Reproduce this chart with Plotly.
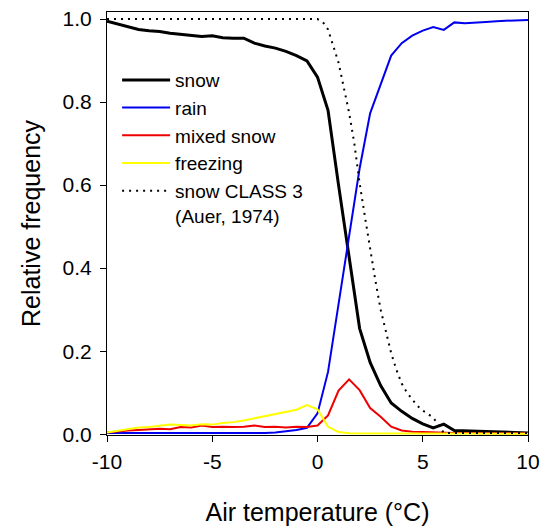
import plotly.graph_objects as go

temp = [-10.0, -9.5, -9.0, -8.5, -8.0, -7.5, -7.0, -6.5, -6.0, -5.5, -5.0, -4.5, -4.0, -3.5,
        -3.0, -2.5, -2.0, -1.5, -1.0, -0.5, 0.0, 0.5, 1.0, 1.5, 2.0, 2.5, 3.0, 3.5, 4.0,
        4.5, 5.0, 5.5, 6.0, 6.5, 7.0, 7.5, 8.0, 8.5, 9.0, 9.5, 10.0]

snow = [0.995, 0.988, 0.982, 0.975, 0.972, 0.970, 0.966, 0.963, 0.961, 0.958, 0.960, 0.955,
        0.954, 0.954, 0.942, 0.935, 0.930, 0.922, 0.912, 0.899, 0.860, 0.780, 0.600, 0.430,
        0.255, 0.173, 0.117, 0.075, 0.055, 0.038, 0.025, 0.015, 0.024, 0.009, 0.008, 0.007,
        0.007, 0.006, 0.005, 0.004, 0.003]

rain = [0.003, 0.003, 0.003, 0.002, 0.003, 0.003, 0.002, 0.003, 0.003, 0.002, 0.002, 0.002,
        0.002, 0.002, 0.002, 0.003, 0.004, 0.007, 0.010, 0.015, 0.050, 0.150, 0.310, 0.470,
        0.640, 0.773, 0.845, 0.912, 0.942, 0.960, 0.972, 0.981, 0.974, 0.992, 0.990, 0.991,
        0.993, 0.995, 0.996, 0.997, 0.998]

mixed = [0.004, 0.007, 0.009, 0.010, 0.012, 0.013, 0.012, 0.017, 0.016, 0.021, 0.017, 0.018,
         0.017, 0.018, 0.021, 0.017, 0.018, 0.016, 0.018, 0.017, 0.021, 0.045, 0.105, 0.132,
         0.106, 0.063, 0.042, 0.018, 0.009, 0.006, 0.005, 0.004, 0.004, 0.003, 0.003, 0.002,
         0.002, 0.002, 0.002, 0.002, 0.002]

freezing = [0.004, 0.008, 0.012, 0.016, 0.017, 0.020, 0.023, 0.022, 0.021, 0.024, 0.023, 0.027,
            0.029, 0.033, 0.038, 0.043, 0.049, 0.053, 0.059, 0.070, 0.060, 0.018, 0.005, 0.002,
            0.002, 0.001, 0.001, 0.001, 0.001, 0.001, 0.001, 0.001, 0.001, 0.001, 0.001, 0.001,
            0.001, 0.001, 0.001, 0.001, 0.001]

auer_temp = [-10.0, -5.0, 0.0, 0.25, 0.5, 0.75, 1.0, 1.25, 1.5, 1.75, 2.0, 2.25, 2.5, 2.75,
             3.0, 3.25, 3.5, 3.75, 4.0, 4.25, 4.5, 4.75, 5.0, 5.25, 5.5, 6.0, 7.0, 8.0, 9.0, 10.0]
auer_snow = [1.0, 1.0, 1.0, 0.993, 0.975, 0.935, 0.895, 0.835, 0.775, 0.700, 0.605, 0.525,
             0.445, 0.370, 0.300, 0.245, 0.195, 0.155, 0.122, 0.100, 0.083, 0.068, 0.057,
             0.048, 0.040, 0.003, 0.003, 0.003, 0.003, 0.003]

x_ticks = [-10, -5, 0, 5, 10]
y_ticks = [0.0, 0.2, 0.4, 0.6, 0.8, 1.0]

FONT = "Liberation Sans, Arial, sans-serif"

fig = go.Figure()
fig.add_trace(go.Scatter(x=temp, y=snow, mode="lines", name="snow",
                         line=dict(color="#000000", width=3)))
fig.add_trace(go.Scatter(x=temp, y=rain, mode="lines", name="rain",
                         line=dict(color="#0000ee", width=2)))
fig.add_trace(go.Scatter(x=temp, y=mixed, mode="lines", name="mixed snow",
                         line=dict(color="#ee0000", width=2)))
fig.add_trace(go.Scatter(x=temp, y=freezing, mode="lines", name="freezing",
                         line=dict(color="#ffff00", width=2)))
fig.add_trace(go.Scatter(x=auer_temp, y=auer_snow, mode="lines",
                         name="snow CLASS 3<br>(Auer, 1974)",
                         line=dict(color="#000000", width=2, dash="2px,5px")))

fig.update_layout(
    width=541, height=531,
    margin=dict(l=107, r=13, t=12, b=96, autoexpand=False),
    paper_bgcolor="white", plot_bgcolor="white",
    font=dict(family=FONT, color="black"),
    showlegend=True,
    legend=dict(x=0.024, y=0.884, xanchor="left", yanchor="top",
                bgcolor="rgba(0,0,0,0)", font=dict(size=19, family=FONT),
                valign="top", itemwidth=48, tracegroupgap=0),
)
fig.update_xaxes(range=[-10, 10], tickvals=x_ticks, ticktext=[str(v) for v in x_ticks],
                 ticks="outside", ticklen=6, tickwidth=1, tickcolor="black",
                 showline=True, linecolor="black", linewidth=1, mirror=True,
                 showgrid=False, zeroline=False, automargin=False,
                 tickfont=dict(size=21, family=FONT), ticklabelstandoff=2,
                 title=dict(text="Air temperature (°C)", font=dict(size=25, family=FONT), standoff=31))
fig.update_yaxes(range=[-0.002, 1.017], tickvals=y_ticks, ticktext=[f"{v:.1f}" for v in y_ticks],
                 ticks="outside", ticklen=6, tickwidth=1, tickcolor="black",
                 showline=True, linecolor="black", linewidth=1, mirror=True,
                 showgrid=False, zeroline=False, automargin=False,
                 tickfont=dict(size=21, family=FONT), ticklabelstandoff=4,
                 title=dict(text="Relative frequency", font=dict(size=25, family=FONT), standoff=14))

fig.write_html("out.html", config={"displayModeBar": False},
               post_script="document.body.style.margin='0';")
